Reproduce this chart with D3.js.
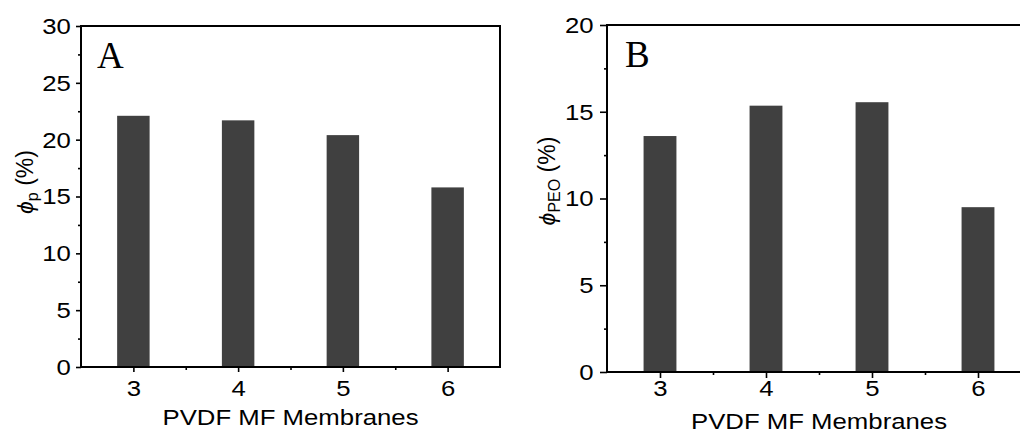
<!DOCTYPE html>
<html>
<head>
<meta charset="utf-8">
<script src="https://cdn.jsdelivr.net/npm/d3@7"></script>
<style>
  body { margin: 0; background: #fff; }
  svg { display: block; }
</style>
</head>
<body>
<div id="chart"></div>
<script>
// data
const membranes = [3, 4, 5, 6];
const phiP = [22.1, 21.7, 20.4, 15.8];      // panel A, %
const phiPEO = [13.6, 15.35, 15.55, 9.5];  // panel B, %
const yTicksA = [0, 5, 10, 15, 20, 25, 30];
const yTicksB = [0, 5, 10, 15, 20];
const xTitle = 'PVDF MF Membranes';

const W = 1020, H = 433;
const stretch = 1.12; // sans text in the figure is a bit wide
const sans = '"Liberation Sans", Arial, sans-serif';

const svg = d3.select('#chart').append('svg')
    .attr('width', W).attr('height', H)
    .style('background', '#fff');

function drawPanel(p) {
    const g = svg.append('g');
    const x = d3.scaleLinear().domain([2.5, 6.5]).range([p.left, p.right]);
    const y = d3.scaleLinear().domain([0, p.yMax]).range([p.bottom, p.top]);

    // bars
    const bw = 0.31;
    g.selectAll('.bar').data(p.values).enter().append('rect')
        .attr('x', (d, i) => x(membranes[i] - bw / 2))
        .attr('y', d => y(d))
        .attr('width', (d, i) => x(membranes[i] + bw / 2) - x(membranes[i] - bw / 2))
        .attr('height', d => y(0) - y(d))
        .attr('fill', '#404040');

    // minor ticks
    const minorY = d3.range(2.5, p.yMax, 5);
    g.append('g').attr('transform', `translate(${p.left},0)`)
        .call(d3.axisLeft(y).tickValues(minorY).tickSize(3).tickSizeOuter(0).tickFormat(''))
        .call(a => a.select('.domain').remove());
    g.append('g').attr('transform', `translate(0,${p.bottom})`)
        .call(d3.axisBottom(x).tickValues([3.5, 4.5, 5.5]).tickSize(3).tickSizeOuter(0).tickFormat(''))
        .call(a => a.select('.domain').remove());

    // major axes
    const yAx = g.append('g').attr('transform', `translate(${p.left},0)`)
        .call(d3.axisLeft(y).tickValues(p.yTicks).tickFormat(d3.format('d'))
            .tickSize(p.yTick).tickPadding(p.yPad).tickSizeOuter(0));
    const xAx = g.append('g').attr('transform', `translate(0,${p.bottom})`)
        .call(d3.axisBottom(x).tickValues(membranes).tickFormat(d3.format('d'))
            .tickSize(p.xTick).tickPadding(p.xPad).tickSizeOuter(0));

    [yAx, xAx].forEach(a => {
        a.selectAll('.tick text')
            .attr('font-family', sans).attr('font-size', 23).attr('fill', '#000')
            .attr('transform', `scale(${stretch},1)`);
        a.select('.domain').remove();
    });
    g.selectAll('.tick line').attr('stroke', '#000').attr('stroke-width', 1.6);

    // frame
    g.append('path')
        .attr('d', `M${p.left},${p.bottom}V${p.top}H${p.right}V${p.bottom}Z`)
        .attr('fill', 'none').attr('stroke', '#000').attr('stroke-width', 2);

    // panel letter
    g.append('text')
        .attr('x', p.left + p.letterDx).attr('y', p.letterY)
        .attr('font-family', '"Liberation Serif", "Times New Roman", serif')
        .attr('font-size', 37).attr('fill', '#000')
        .text(p.letter);

    // x title
    g.append('text')
        .attr('transform', `translate(${(p.left + p.right) / 2},${p.xTitleY}) scale(${stretch},1)`)
        .attr('text-anchor', 'middle')
        .attr('font-family', sans).attr('font-size', 23).attr('fill', '#000')
        .text(xTitle);

    // y title: phi with subscript
    const yt = g.append('text')
        .attr('transform', `translate(${p.yTitleX},${p.yTitleY}) rotate(-90)`)
        .attr('text-anchor', 'middle')
        .attr('font-family', sans).attr('font-size', 23).attr('fill', '#000');
    yt.append('tspan').attr('font-style', 'italic').text('ϕ');
    yt.append('tspan').attr('font-size', 16).attr('dy', 5).text(p.sub);
    yt.append('tspan').attr('dy', -5).text(' (%)');
}

drawPanel({
    values: phiP, yMax: 30, yTicks: yTicksA,
    left: 81, right: 500, top: 26, bottom: 367,
    yTick: 5, yPad: 4, xTick: 5, xPad: 8,
    letter: 'A', letterDx: 16, letterY: 68,
    xTitleY: 425, yTitleX: 33, yTitleY: 182, sub: 'p'
});

drawPanel({
    values: phiPEO, yMax: 20, yTicks: yTicksB,
    left: 607, right: 1031, top: 25, bottom: 372,
    yTick: 7, yPad: 5, xTick: 6, xPad: 2,
    letter: 'B', letterDx: 18, letterY: 67,
    xTitleY: 429, yTitleX: 555, yTitleY: 181, sub: 'PEO'
});
</script>
</body>
</html>
